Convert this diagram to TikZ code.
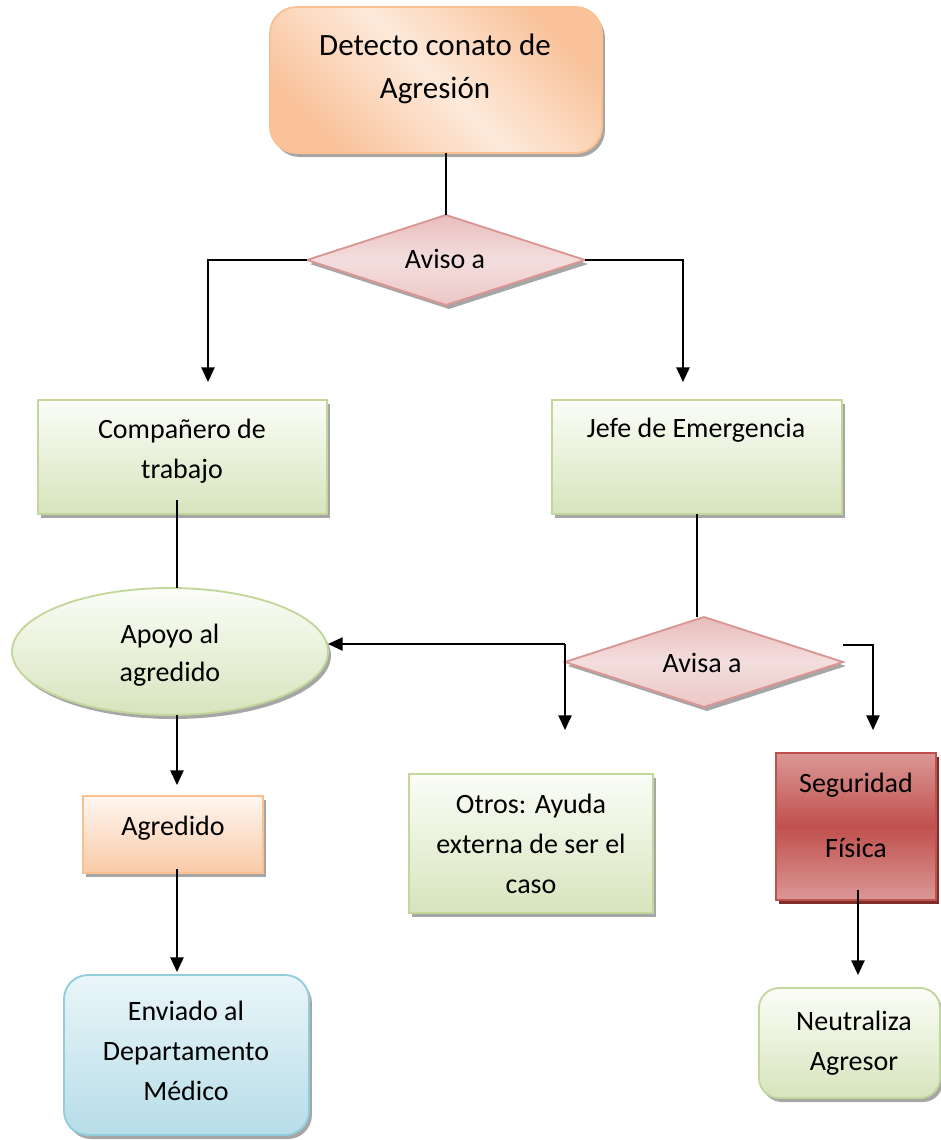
\documentclass[tikz,border=0pt]{standalone}
\usepackage{fontspec}
\setmainfont{Carlito}
\usetikzlibrary{shapes.geometric,shadows,arrows.meta,calc}

\definecolor{orline}{HTML}{FAC090}
\definecolor{ordark}{HTML}{F9C29A}
\definecolor{orlight}{HTML}{FDEADB}
\definecolor{grline}{HTML}{C3D69B}
\definecolor{grdark}{HTML}{D7E4BD}
\definecolor{grlight}{HTML}{FBFDF7}
\definecolor{pkline}{HTML}{D99694}
\definecolor{pkdark}{HTML}{E8BDBC}
\definecolor{pklight}{HTML}{F3DEDD}
\definecolor{rdline}{HTML}{C0504D}
\definecolor{rdlight}{HTML}{DA9896}
\definecolor{rdmid}{HTML}{C0504D}
\definecolor{rdshadow}{HTML}{7F2D2B}
\definecolor{blline}{HTML}{92CDDC}
\definecolor{bldark}{HTML}{B7DDE8}
\definecolor{bllight}{HTML}{E9F5F9}

\begin{document}
\begin{tikzpicture}[x=0.75pt,y=-0.75pt,
  base/.style={inner sep=0pt, outer sep=0pt, line width=1.4pt},
  shad/.style={drop shadow={shadow xshift=2.2pt, shadow yshift=-3pt, fill=black!35, opacity=1}},
  orangebox/.style={base, shad, draw=orline, top color=ordark, bottom color=ordark, middle color=orlight, shading angle=-45},
  peachbox/.style={base, shad, draw=orline, top color=orlight!40!white, bottom color=ordark!80!orlight},
  greenbox/.style={base, shad, draw=grline, top color=grlight, bottom color=grdark},
  pinkdiamond/.style={base, shad, diamond, draw=pkline, top color=pkdark, bottom color=pkdark!70!pklight, middle color=pklight},
  redbox/.style={base, draw=rdline, top color=rdlight, bottom color=rdlight, middle color=rdmid,
    drop shadow={shadow xshift=2.5pt, shadow yshift=-3pt, fill=rdshadow, opacity=1}},
  bluebox/.style={base, shad, draw=blline, top color=bllight, bottom color=bldark},
  % anchor=base puts the last line of the text on the given point
  lbl/.style={anchor=base, align=center, inner sep=0pt, font=\fontsize{21}{30}\selectfont},
  conn/.style={line width=1.1pt, black},
  arr/.style={conn, -{Triangle[length=11pt,width=10pt]}},
]
\useasboundingbox (0,0) rectangle (941,1140);

% shapes
\node[orangebox, rounded corners=20pt, minimum width=249pt, minimum height=109.5pt] (top) at (436,80) {};
\node[pinkdiamond, minimum width=208.5pt, minimum height=67.5pt] (d1) at (446,260) {};
\node[greenbox, minimum width=216.75pt, minimum height=85.5pt] (comp) at (182.5,457) {};
\node[greenbox, minimum width=217.5pt, minimum height=85.5pt] (jefe) at (697,457) {};
\node[greenbox, ellipse, minimum width=237pt, minimum height=95.25pt] (ell) at (170,651.5) {};
\node[pinkdiamond, minimum width=208.5pt, minimum height=67.5pt] (d2) at (704,662) {};
\node[greenbox, minimum width=183pt, minimum height=104.25pt] (otros) at (531,843.5) {};
\node[redbox, minimum width=120pt, minimum height=110.25pt] (seg) at (856,826.5) {};
\node[peachbox, minimum width=135pt, minimum height=57.75pt] (agr) at (173,834.5) {};
\node[bluebox, rounded corners=18pt, minimum width=183.75pt, minimum height=120pt] (env) at (186.5,1055) {};
\node[greenbox, rounded corners=15pt, minimum width=135.75pt, minimum height=82.5pt] (neu) at (849.5,1043) {};

% texts
\node[lbl, font=\fontsize{23.25}{32.25}\selectfont] (t-top) at (435,98) {Detecto conato de\\Agresión};
\node[lbl] (t-d1) at (445,268) {Aviso a};
\node[lbl] (t-comp) at (182,478) {Compañero de\\trabajo};
\node[lbl] (t-jefe) at (696,437) {Jefe de Emergencia};
\node[lbl, font=\fontsize{21}{28.5}\selectfont] (t-ell) at (170,681) {Apoyo al\\agredido};
\node[lbl] (t-d2) at (702,672) {Avisa a};
\node[lbl] (t-otros) at (531,893) {Otros: Ayuda\\externa de ser el\\caso};
\node[lbl, font=\fontsize{21}{48.75}\selectfont] (t-seg) at (856,857) {Seguridad\\Física};
\node[lbl] (t-agr) at (173,835) {Agredido};
\node[lbl] (t-env) at (186,1100) {Enviado al\\Departamento\\Médico};
\node[lbl] (t-neu) at (854,1070) {Neutraliza\\Agresor};

% connectors
\draw[conn] (d1.north |- top.south) -- (d1.north);
\coordinate (a1) at (208,382);
\coordinate (a2) at (683,382);
\draw[arr] (d1.west) -| (a1);
\draw[arr] (d1.east) -| (a2);
\draw[conn] ($(comp.south)+(-5.5,-14)$) -- ($(comp.south |- ell.north)+(-5.5,0)$);
\draw[conn] (jefe.south) -- (jefe.south |- d2.north);
\coordinate (j1) at ($(d2.west)+(0,-18)$);
\draw[arr] (j1) -- (j1 -| ell.east);
\draw[arr] (j1) -- ++(0,86);
\coordinate (r1) at ($(d2.east)+(0,-17)$);
\draw[arr] (r1) -- ++(30,0) -- ++(0,85);
\draw[arr] ($(seg.south)+(2,-10)$) -- ($(neu.north)+(8.5,-13)$);
\draw[arr] ($(ell.south)+(7,0)$) -- ($(agr.north)+(4,-11)$);
\draw[arr] ($(agr.south)+(4,-4)$) -- ($(env.north)+(-9.5,-3)$);
\end{tikzpicture}
\end{document}
